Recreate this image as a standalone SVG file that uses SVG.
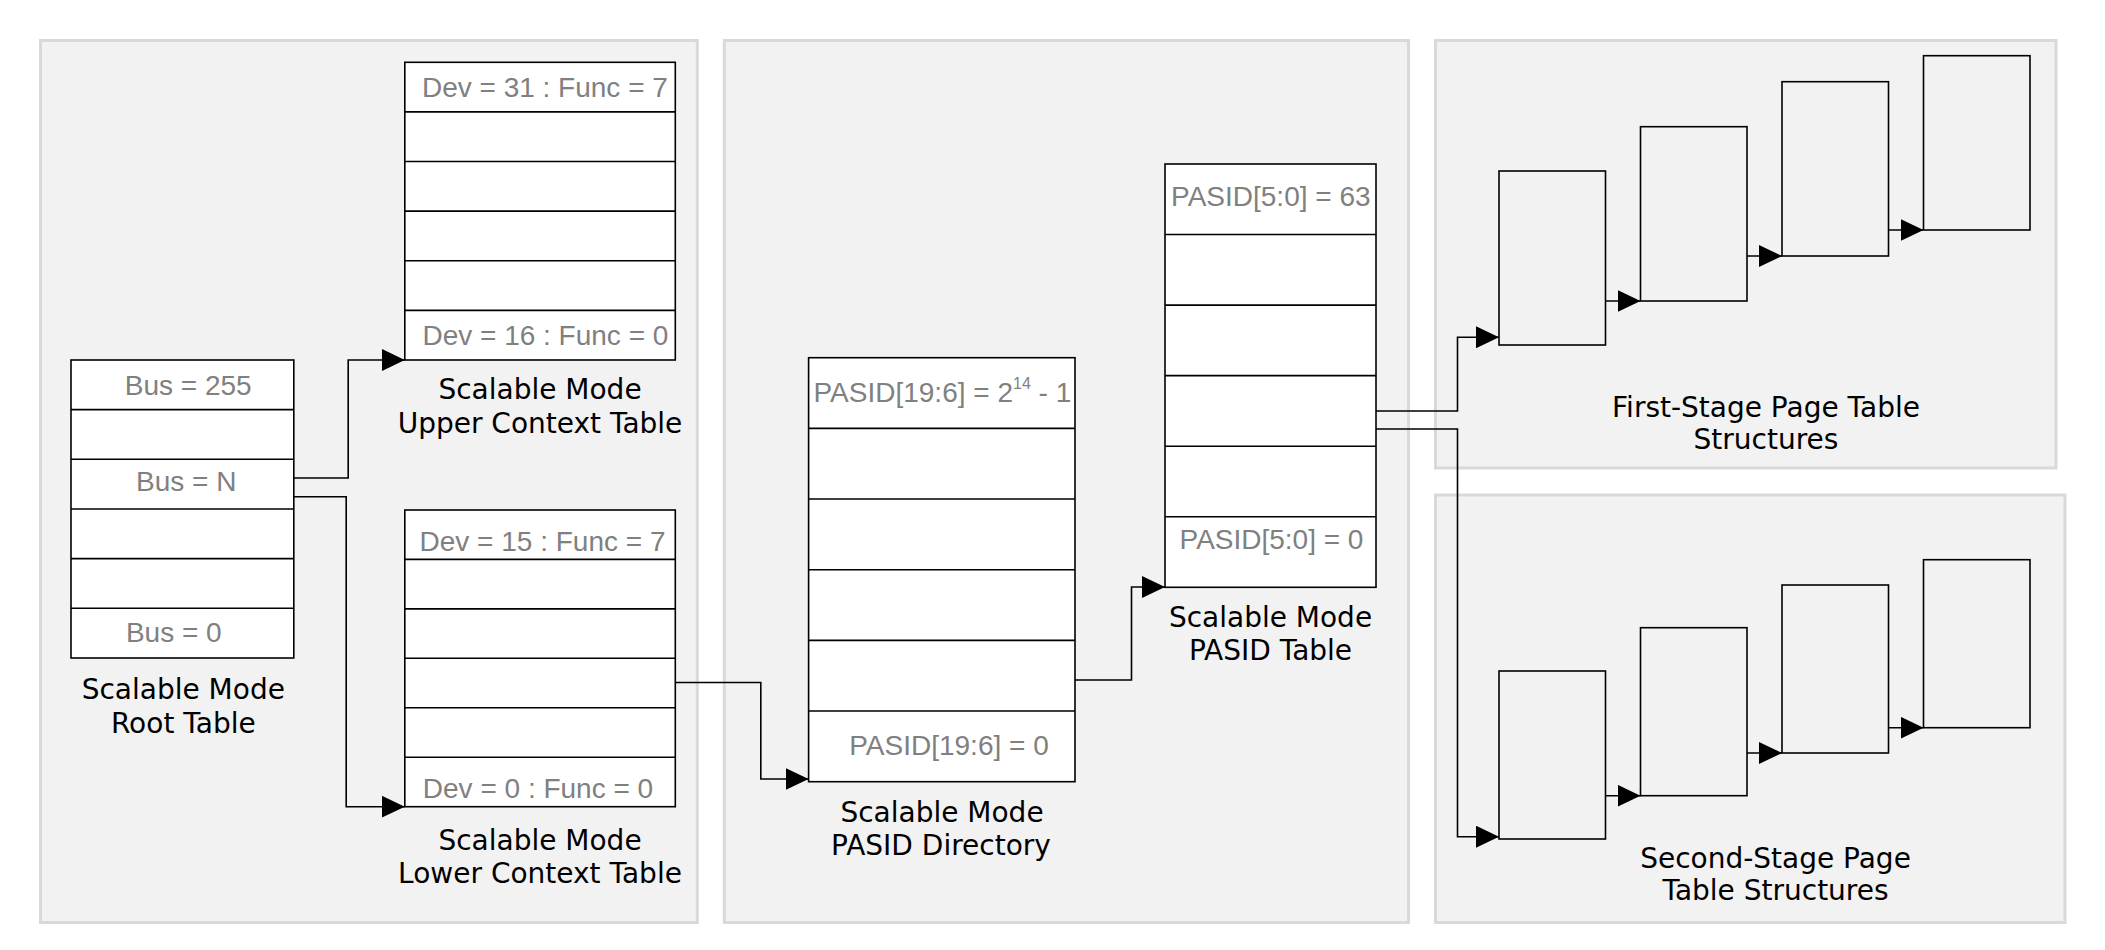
<svg xmlns="http://www.w3.org/2000/svg" width="2105" height="950" viewBox="0 0 2105 950">
<style>
.panel{fill:#f2f2f2;stroke:#d9d9d9;stroke-width:3}
.tbl{fill:#ffffff;stroke:#000;stroke-width:1.6}
.row{stroke:#000;stroke-width:1.6}
.pg{fill:none;stroke:#000;stroke-width:1.6}
.gl{font-family:"Liberation Sans",Arial,sans-serif;font-size:28px;fill:#808080;text-anchor:middle}
.bl{font-family:"DejaVu Sans",Verdana,sans-serif;font-size:28px;fill:#000;text-anchor:middle}
.conn{fill:none;stroke:#000;stroke-width:1.6}
</style>
<defs>
<marker id="arr" markerUnits="userSpaceOnUse" markerWidth="26" markerHeight="24" refX="23" refY="11" orient="auto">
<path d="M0,0 L23,11 L0,22 Z" fill="#000"/>
</marker>
</defs>
<rect width="2105" height="950" fill="#ffffff"/>
<g id="panels">
<rect class="panel" x="40.5" y="40.5" width="656.8" height="882"/>
<rect class="panel" x="724.3" y="40.5" width="684.2" height="882"/>
<rect class="panel" x="1435.5" y="40.5" width="620.5" height="427.5"/>
<rect class="panel" x="1435.5" y="495" width="629.5" height="427.5"/>
</g>
<g id="root-table">
<rect class="tbl" x="71" y="360" width="222.8" height="298"/>
<path class="row" d="M71,409.6H293.8M71,459.3H293.8M71,509H293.8M71,558.6H293.8M71,608.3H293.8"/>
<text class="gl" x="188.2" y="395">Bus = 255</text>
<text class="gl" x="186.2" y="491">Bus = N</text>
<text class="gl" x="173.8" y="642">Bus = 0</text>
<text class="bl" x="183.3" y="699">Scalable Mode</text>
<text class="bl" x="183.3" y="732.5">Root Table</text>
</g>
<g id="upper-context-table">
<rect class="tbl" x="404.8" y="62.3" width="270.5" height="297.7"/>
<path class="row" d="M404.8,111.9H675.3M404.8,161.5H675.3M404.8,211.1H675.3M404.8,260.7H675.3M404.8,310.4H675.3"/>
<text class="gl" x="544.9" y="96.7">Dev = 31 : Func = 7</text>
<text class="gl" x="545.4" y="345">Dev = 16 : Func = 0</text>
<text class="bl" x="540" y="399.3">Scalable Mode</text>
<text class="bl" x="540" y="432.7">Upper Context Table</text>
</g>
<g id="lower-context-table">
<rect class="tbl" x="404.8" y="510" width="270.5" height="296.7"/>
<path class="row" d="M404.8,559.4H675.3M404.8,608.9H675.3M404.8,658.3H675.3M404.8,707.8H675.3M404.8,757.2H675.3"/>
<text class="gl" x="542.5" y="551">Dev = 15 : Func = 7</text>
<text class="gl" x="538" y="798">Dev = 0 : Func = 0</text>
<text class="bl" x="540" y="850">Scalable Mode</text>
<text class="bl" x="540" y="883.3">Lower Context Table</text>
</g>
<g id="pasid-directory">
<rect class="tbl" x="808.6" y="357.7" width="266.4" height="424"/>
<path class="row" d="M808.6,428.4H1075M808.6,499H1075M808.6,569.7H1075M808.6,640.4H1075M808.6,711H1075"/>
<text class="gl" x="813.5" y="401.7" style="text-anchor:start">PASID[19:6] = 2<tspan font-size="16" dy="-13">14</tspan><tspan dy="13"> - 1</tspan></text>
<text class="gl" x="949" y="755">PASID[19:6] = 0</text>
<text class="bl" x="942" y="821.7">Scalable Mode</text>
<text class="bl" x="941" y="854.5">PASID Directory</text>
</g>
<g id="pasid-table">
<rect class="tbl" x="1165" y="164" width="211" height="423.3"/>
<path class="row" d="M1165,234.5H1376M1165,305.1H1376M1165,375.6H1376M1165,446.2H1376M1165,516.8H1376"/>
<text class="gl" x="1270.8" y="206">PASID[5:0] = 63</text>
<text class="gl" x="1271.5" y="549">PASID[5:0] = 0</text>
<text class="bl" x="1270.5" y="626.7">Scalable Mode</text>
<text class="bl" x="1270.5" y="660">PASID Table</text>
</g>
<g id="first-stage">
<rect class="pg" x="1499" y="171" width="106.5" height="174"/>
<rect class="pg" x="1640.5" y="126.7" width="106.5" height="174.3"/>
<rect class="pg" x="1782" y="81.7" width="106.5" height="174.3"/>
<rect class="pg" x="1923.5" y="55.7" width="106.5" height="174.3"/>
<text class="bl" x="1766" y="416.7">First-Stage Page Table</text>
<text class="bl" x="1766" y="448.8">Structures</text>
</g>
<g id="second-stage">
<rect class="pg" x="1499" y="671" width="106.5" height="168"/>
<rect class="pg" x="1640.5" y="627.7" width="106.5" height="168"/>
<rect class="pg" x="1782" y="585" width="106.5" height="168"/>
<rect class="pg" x="1923.5" y="559.7" width="106.5" height="168"/>
<text class="bl" x="1775.5" y="867.7">Second-Stage Page</text>
<text class="bl" x="1775.5" y="900">Table Structures</text>
</g>
<g id="connectors">
<path class="conn" marker-end="url(#arr)" d="M293.8,478H348.2V360H404.8"/>
<path class="conn" marker-end="url(#arr)" d="M293.8,496.7H346.2V806.7H404.8"/>
<path class="conn" marker-end="url(#arr)" d="M675.3,682.5H760.8V779H808.6"/>
<path class="conn" marker-end="url(#arr)" d="M1075,680H1131.5V587H1165"/>
<path class="conn" marker-end="url(#arr)" d="M1376,411H1457.5V337.3H1499"/>
<path class="conn" marker-end="url(#arr)" d="M1376,429H1457.5V836.7H1499"/>
<path class="conn" marker-end="url(#arr)" d="M1605.5,301H1640.5"/>
<path class="conn" marker-end="url(#arr)" d="M1747,256H1782"/>
<path class="conn" marker-end="url(#arr)" d="M1888.5,230H1923.5"/>
<path class="conn" marker-end="url(#arr)" d="M1605.5,795.7H1640.5"/>
<path class="conn" marker-end="url(#arr)" d="M1747,753H1782"/>
<path class="conn" marker-end="url(#arr)" d="M1888.5,727.7H1923.5"/>
</g>
</svg>
